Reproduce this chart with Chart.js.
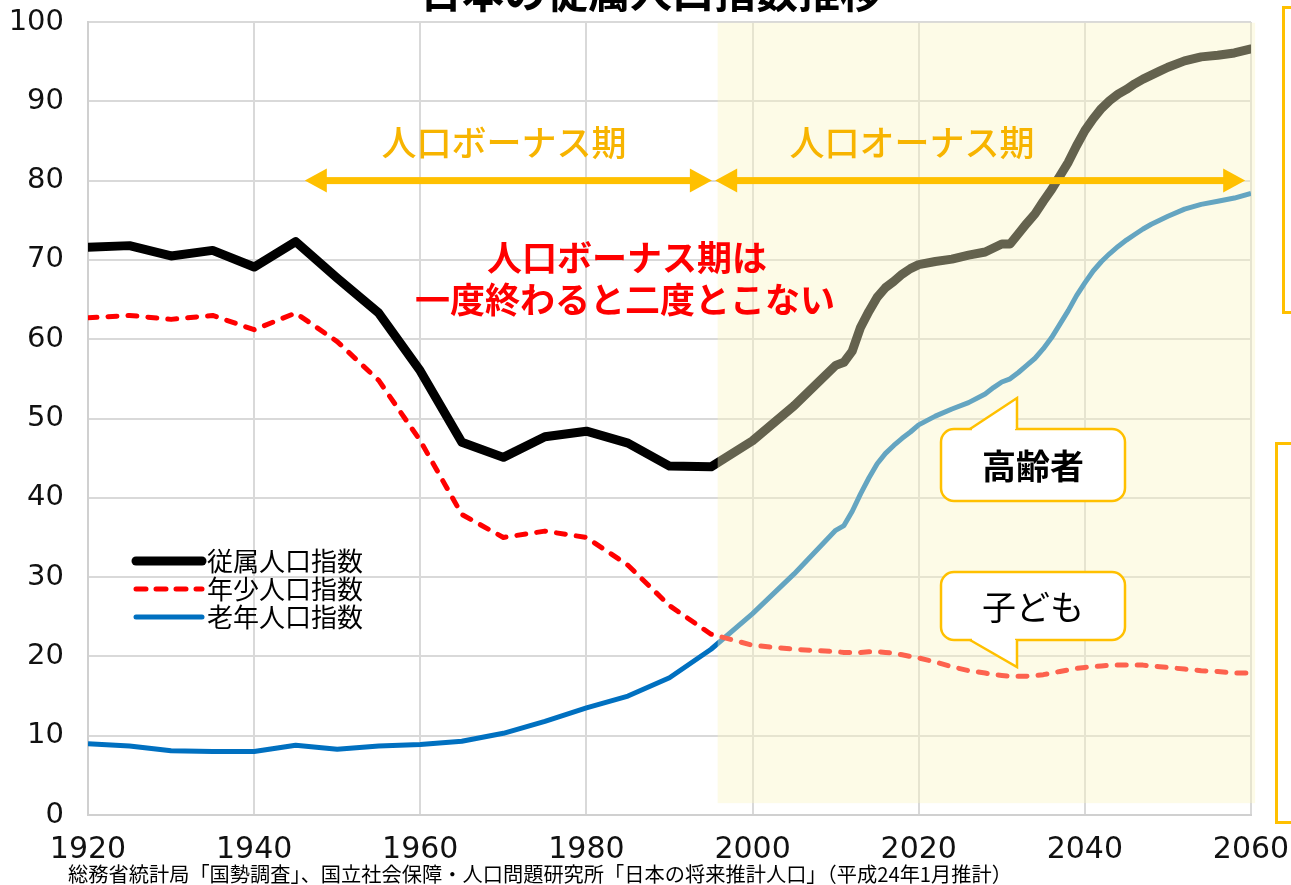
<!DOCTYPE html>
<html lang="ja">
<head>
<meta charset="utf-8">
<title>日本の従属人口指数推移</title>
<script src="https://cdn.jsdelivr.net/npm/chart.js@4.4.1/dist/chart.umd.min.js"></script>
<style>
  html, body { margin: 0; padding: 0; background: #fff; }
  #wrap { width: 1291px; height: 885px; position: relative; }
</style>
</head>
<body>
<div id="wrap"><canvas id="depChart"></canvas></div>
<script>
// census years (5-yearly) then projection years
const years = [
  1920, 1925, 1930, 1935, 1940, 1945, 1950, 1955, 1960, 1965, 1970, 1975, 1980, 1985, 1990, 1995,
  2000, 2005, 2010, 2011, 2012, 2013, 2014, 2015, 2016, 2017, 2018, 2019, 2020, 2022, 2024, 2026,
  2028, 2029, 2030, 2031, 2032, 2033, 2034, 2035, 2036, 2037, 2038, 2039, 2040, 2041, 2042, 2043,
  2044, 2045, 2046, 2047, 2048, 2049, 2050, 2052, 2054, 2056, 2058, 2060
];

// 従属人口指数
const dependentIndex = [
  71.6, 71.8, 70.5, 71.2, 69.1, 72.3, 67.7, 63.3, 56.0, 47.0, 45.1, 47.7, 48.4, 46.9, 44.0, 43.9,
  47.2, 51.6, 56.7, 57.1, 58.5, 61.5, 63.5, 65.3, 66.5, 67.3, 68.2, 68.9, 69.4, 69.8, 70.1, 70.6,
  71.0, 71.5, 72.0, 72.0, 73.3, 74.6, 75.8, 77.4, 78.9, 80.6, 82.3, 84.4, 86.3, 87.8, 89.1, 90.1,
  90.9, 91.5, 92.2, 92.8, 93.3, 93.8, 94.3, 95.1, 95.6, 95.8, 96.1, 96.6
];

// 年少人口指数
const youthIndex = [
  62.7, 63.0, 62.5, 63.0, 61.2, 63.3, 59.7, 54.8, 47.2, 37.9, 35.0, 35.8, 35.0, 31.5, 26.4, 22.8,
  21.4, 20.9, 20.6, 20.5, 20.5, 20.5, 20.6, 20.6, 20.5, 20.4, 20.2, 20.0, 19.8, 19.3, 18.7, 18.2,
  17.9, 17.7, 17.6, 17.5, 17.5, 17.5, 17.6, 17.7, 17.9, 18.1, 18.3, 18.5, 18.6, 18.7, 18.8, 18.9,
  18.9, 18.9, 18.9, 18.9, 18.8, 18.7, 18.6, 18.4, 18.2, 18.1, 17.9, 17.9
];

// 老年人口指数
const elderlyIndex = [
  9.0, 8.7, 8.1, 8.0, 8.0, 8.8, 8.3, 8.7, 8.9, 9.3, 10.3, 11.8, 13.5, 15.0, 17.3, 20.9,
  25.4, 30.4, 35.9, 36.5, 38.3, 40.5, 42.5, 44.3, 45.6, 46.6, 47.5, 48.3, 49.2, 50.3, 51.2, 52.0,
  53.1, 53.9, 54.6, 55.0, 55.8, 56.7, 57.6, 58.8, 60.2, 61.9, 63.6, 65.5, 67.1, 68.6, 69.8, 70.8,
  71.7, 72.5, 73.2, 73.9, 74.5, 75.0, 75.5, 76.4, 77.0, 77.4, 77.8, 78.4
];

const seriesNames = ['従属人口指数', '年少人口指数', '老年人口指数'];

// projection period that gets the yellow wash (years)
const onusStart = 1995.8;
const bonusArrow = [1946.1, 1995.1];
const onusArrow = [1995.5, 2059.3];

const JP = '"Noto Sans CJK JP", "Noto Sans", sans-serif';
const NUM = '"DejaVu Sans", sans-serif';

function pts(vals) {
  return years.map((x, i) => ({ x: x, y: vals[i] }));
}

function drawArrow(ctx, x1, x2, y) {
  const head = 22, half = 12;
  ctx.fillStyle = '#ffc000';
  ctx.fillRect(x1 + head - 1, y - 3.5, x2 - x1 - 2 * head + 2, 7);
  ctx.beginPath();
  ctx.moveTo(x1, y);
  ctx.lineTo(x1 + head, y - half);
  ctx.lineTo(x1 + head, y + half);
  ctx.closePath();
  ctx.fill();
  ctx.beginPath();
  ctx.moveTo(x2, y);
  ctx.lineTo(x2 - head, y - half);
  ctx.lineTo(x2 - head, y + half);
  ctx.closePath();
  ctx.fill();
}

function drawCallout(ctx, l, t, r, b, tail, text, weight) {
  ctx.save();
  ctx.lineWidth = 2.5;
  ctx.strokeStyle = '#ffc000';
  ctx.fillStyle = '#fff';
  ctx.beginPath();
  ctx.roundRect(l, t, r - l, b - t, 13);
  ctx.fill();
  ctx.stroke();
  // tail: [base1, apex, base2]
  ctx.beginPath();
  ctx.moveTo(tail[0][0], tail[0][1]);
  ctx.lineTo(tail[1][0], tail[1][1]);
  ctx.lineTo(tail[2][0], tail[2][1]);
  ctx.closePath();
  ctx.fill();
  ctx.beginPath();
  ctx.strokeStyle = '#fff';
  ctx.lineWidth = 4;
  ctx.moveTo(tail[0][0] + 2, tail[0][1]);
  ctx.lineTo(tail[2][0] - 2, tail[2][1]);
  ctx.stroke();
  ctx.beginPath();
  ctx.strokeStyle = '#ffc000';
  ctx.lineWidth = 2.5;
  ctx.moveTo(tail[0][0], tail[0][1]);
  ctx.lineTo(tail[1][0], tail[1][1]);
  ctx.lineTo(tail[2][0], tail[2][1]);
  ctx.stroke();
  ctx.fillStyle = '#000';
  ctx.font = weight + ' 34px ' + JP;
  ctx.textAlign = 'center';
  ctx.textBaseline = 'middle';
  ctx.fillText(text, (l + r) / 2, (t + b) / 2 + 1);
  ctx.restore();
}

const extras = {
  id: 'extras',
  afterDatasetsDraw(chart) {
    const ctx = chart.ctx;
    const xs = chart.scales.x, ys = chart.scales.y;
    ctx.save();

    // yellow wash over the projection period (tints lines and grid)
    const sx = xs.getPixelForValue(onusStart);
    const ex = xs.getPixelForValue(2060.5);
    const sy = ys.getPixelForValue(99.9);
    const ey = ys.getPixelForValue(1.5);
    ctx.fillStyle = 'rgba(250, 244, 196, 0.4)';
    ctx.fillRect(sx, sy, ex - sx, ey - sy);

    // arrows + period labels
    const ay = ys.getPixelForValue(80);
    drawArrow(ctx, xs.getPixelForValue(bonusArrow[0]), xs.getPixelForValue(bonusArrow[1]), ay);
    drawArrow(ctx, xs.getPixelForValue(onusArrow[0]), xs.getPixelForValue(onusArrow[1]), ay);
    ctx.fillStyle = '#f7b400';
    ctx.font = '500 35px ' + JP;
    ctx.textAlign = 'center';
    ctx.textBaseline = 'middle';
    ctx.fillText('人口ボーナス期', 504, 143);
    ctx.fillText('人口オーナス期', 912, 143);

    // red message
    ctx.fillStyle = '#ff0000';
    ctx.font = 'bold 35px ' + JP;
    ctx.fillText('人口ボーナス期は', 627, 258);
    ctx.fillText('一度終わると二度とこない', 625, 300);

    // callouts
    drawCallout(ctx, 941, 429, 1125, 501, [[970, 429], [1017, 398], [1017, 429]], '高齢者', 'bold');
    drawCallout(ctx, 941, 572, 1125, 640, [[970, 640], [1017, 667], [1017, 640]], '子ども', 'normal');

    // legend
    const lg = [
      { w: 9, dash: [], color: '#000' },
      { w: 5, dash: [10, 10], color: '#ff0000' },
      { w: 5, dash: [], color: '#0070c0' }
    ];
    ctx.textAlign = 'left';
    ctx.font = '26px ' + JP;
    lg.forEach((s, i) => {
      const y = 561 + i * 28;
      ctx.beginPath();
      ctx.lineCap = 'round';
      ctx.setLineDash(s.dash);
      ctx.lineWidth = s.w;
      ctx.strokeStyle = s.color;
      ctx.moveTo(136, y);
      ctx.lineTo(202, y);
      ctx.stroke();
      ctx.setLineDash([]);
      ctx.fillStyle = '#000';
      ctx.fillText(chart.data.datasets[i].label, 207, y);
    });

    ctx.restore();
  },
  afterDraw(chart) {
    const ctx = chart.ctx;
    ctx.save();
    // title, mostly cut off at the top edge
    ctx.fillStyle = '#000';
    ctx.font = 'bold 42px ' + JP;
    ctx.textAlign = 'center';
    ctx.textBaseline = 'alphabetic';
    ctx.fillText('日本の従属人口指数推移', 651, 8);

    // source note
    ctx.font = '20.5px ' + JP;
    ctx.textAlign = 'left';
    ctx.textBaseline = 'middle';
    ctx.fillText('総務省統計局「国勢調査」、国立社会保障・人口問題研究所「日本の将来推計人口」（平成24年1月推計）', 68, 874, 944);

    // partial boxes on the right edge
    ctx.strokeStyle = '#ffc000';
    ctx.lineWidth = 3;
    ctx.strokeRect(1283.5, 7.5, 60, 305);
    ctx.strokeRect(1276.5, 443.5, 60, 379);
    ctx.restore();
  }
};

new Chart(document.getElementById('depChart'), {
  type: 'line',
  data: {
    datasets: [
      {
        label: seriesNames[0],
        data: pts(dependentIndex),
        borderColor: '#000000',
        borderWidth: 9,
        borderJoinStyle: 'round',
        borderCapStyle: 'round',
        pointRadius: 0
      },
      {
        label: seriesNames[1],
        data: pts(youthIndex),
        borderColor: '#ff0000',
        borderWidth: 5,
        borderDash: [9, 11],
        borderJoinStyle: 'round',
        borderCapStyle: 'round',
        pointRadius: 0
      },
      {
        label: seriesNames[2],
        data: pts(elderlyIndex),
        borderColor: '#0070c0',
        borderWidth: 5,
        borderJoinStyle: 'round',
        pointRadius: 0
      }
    ]
  },
  options: {
    responsive: true,
    maintainAspectRatio: false,
    animation: false,
    layout: { padding: { top: 22, right: 40, left: 0, bottom: 0 } },
    plugins: {
      legend: { display: false },
      tooltip: { enabled: false }
    },
    scales: {
      x: {
        type: 'linear',
        min: 1920,
        max: 2060,
        afterFit: s => {
          s.height = 70;
          s.paddingLeft = 0;
          s.paddingRight = 0;
        },
        ticks: {
          stepSize: 20,
          padding: 17,
          color: '#111',
          font: { family: NUM, size: 30 },
          maxRotation: 0,
          callback: v => String(v)
        },
        grid: { color: '#d9d9d9', lineWidth: 2, drawTicks: false },
        border: { color: '#d0d0d0', width: 2 }
      },
      y: {
        min: 0,
        max: 100,
        afterFit: s => {
          s.width = 88;
          s.paddingTop = 0;
          s.paddingBottom = 0;
        },
        ticks: {
          stepSize: 10,
          padding: 24,
          color: '#111',
          font: { family: NUM, size: 29 },
          callback: v => String(v)
        },
        grid: { color: '#d9d9d9', lineWidth: 2, drawTicks: false },
        border: { color: '#d0d0d0', width: 2 }
      }
    }
  },
  plugins: [extras]
});
</script>
</body>
</html>
